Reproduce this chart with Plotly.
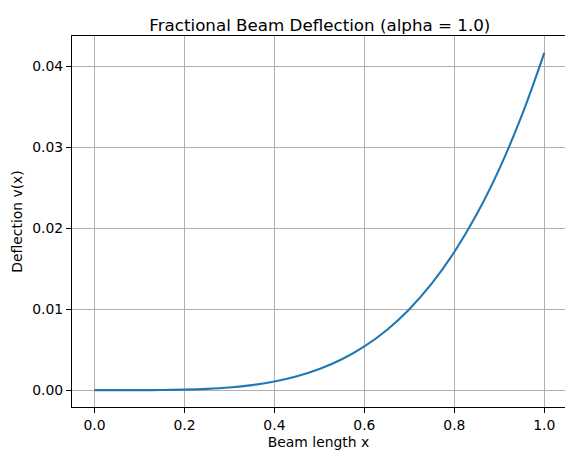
import plotly.graph_objects as go

x_vals = [0.0, 0.05, 0.1, 0.15, 0.2, 0.25, 0.3, 0.35, 0.4, 0.45, 0.5,
          0.55, 0.6, 0.65, 0.7, 0.75, 0.8, 0.85, 0.9, 0.95, 1.0]
deflection = [0.0, 0.0000003, 0.0000042, 0.000021, 0.000067, 0.000163, 0.000338,
              0.000625, 0.001067, 0.001709, 0.002604, 0.003813, 0.0054, 0.007438,
              0.010004, 0.013184, 0.017067, 0.02175, 0.027338, 0.033938, 0.041667]
x_ticks = [0.0, 0.2, 0.4, 0.6, 0.8, 1.0]
y_ticks = [0.0, 0.01, 0.02, 0.03, 0.04]

font = "DejaVu Sans"
fig = go.Figure()
fig.add_trace(go.Scatter(x=x_vals, y=deflection, mode="lines",
                         line=dict(color="#1f77b4", width=2.1, shape="spline"),
                         showlegend=False))

fig.update_layout(
    width=565, height=450,
    margin=dict(l=72, r=0, t=36, b=43, autoexpand=False),
    paper_bgcolor="white", plot_bgcolor="white",
    font=dict(family=font, size=13.9, color="black"),
    title=dict(text="Fractional Beam Deflection (alpha = 1.0)",
               font=dict(family=font, size=16.7, color="black"),
               x=0.5027, xref="paper", xanchor="center",
               y=1, yref="paper", yanchor="bottom", pad=dict(b=5),
               automargin=False),
    xaxis=dict(range=[-0.05, 1.046], tickvals=x_ticks,
               ticktext=[f"{v:.1f}" for v in x_ticks], automargin=False,
               showgrid=True, gridcolor="#b0b0b0", gridwidth=1.1,
               zeroline=False, showline=True, linecolor="black", linewidth=1.1,
               mirror=True, ticks="outside", ticklen=5, tickwidth=1.1,
               tickcolor="black",
               title=dict(text="Beam length x", standoff=5,
                          font=dict(family=font, size=13.9))),
    yaxis=dict(range=[-0.00208, 0.04375], tickvals=y_ticks,
               ticktext=[f"{v:.2f}" for v in y_ticks], automargin=False,
               showgrid=True, gridcolor="#b0b0b0", gridwidth=1.1,
               zeroline=False, showline=True, linecolor="black", linewidth=1.1,
               mirror=False, ticks="outside", ticklen=5, tickwidth=1.1,
               tickcolor="black",
               title=dict(text="Deflection v(x)", standoff=6,
                          font=dict(family=font, size=13.9))),
)

fig.write_html("out.html", config={"displayModeBar": False},
               post_script="document.body.style.margin='0';document.body.style.overflow='hidden';")
